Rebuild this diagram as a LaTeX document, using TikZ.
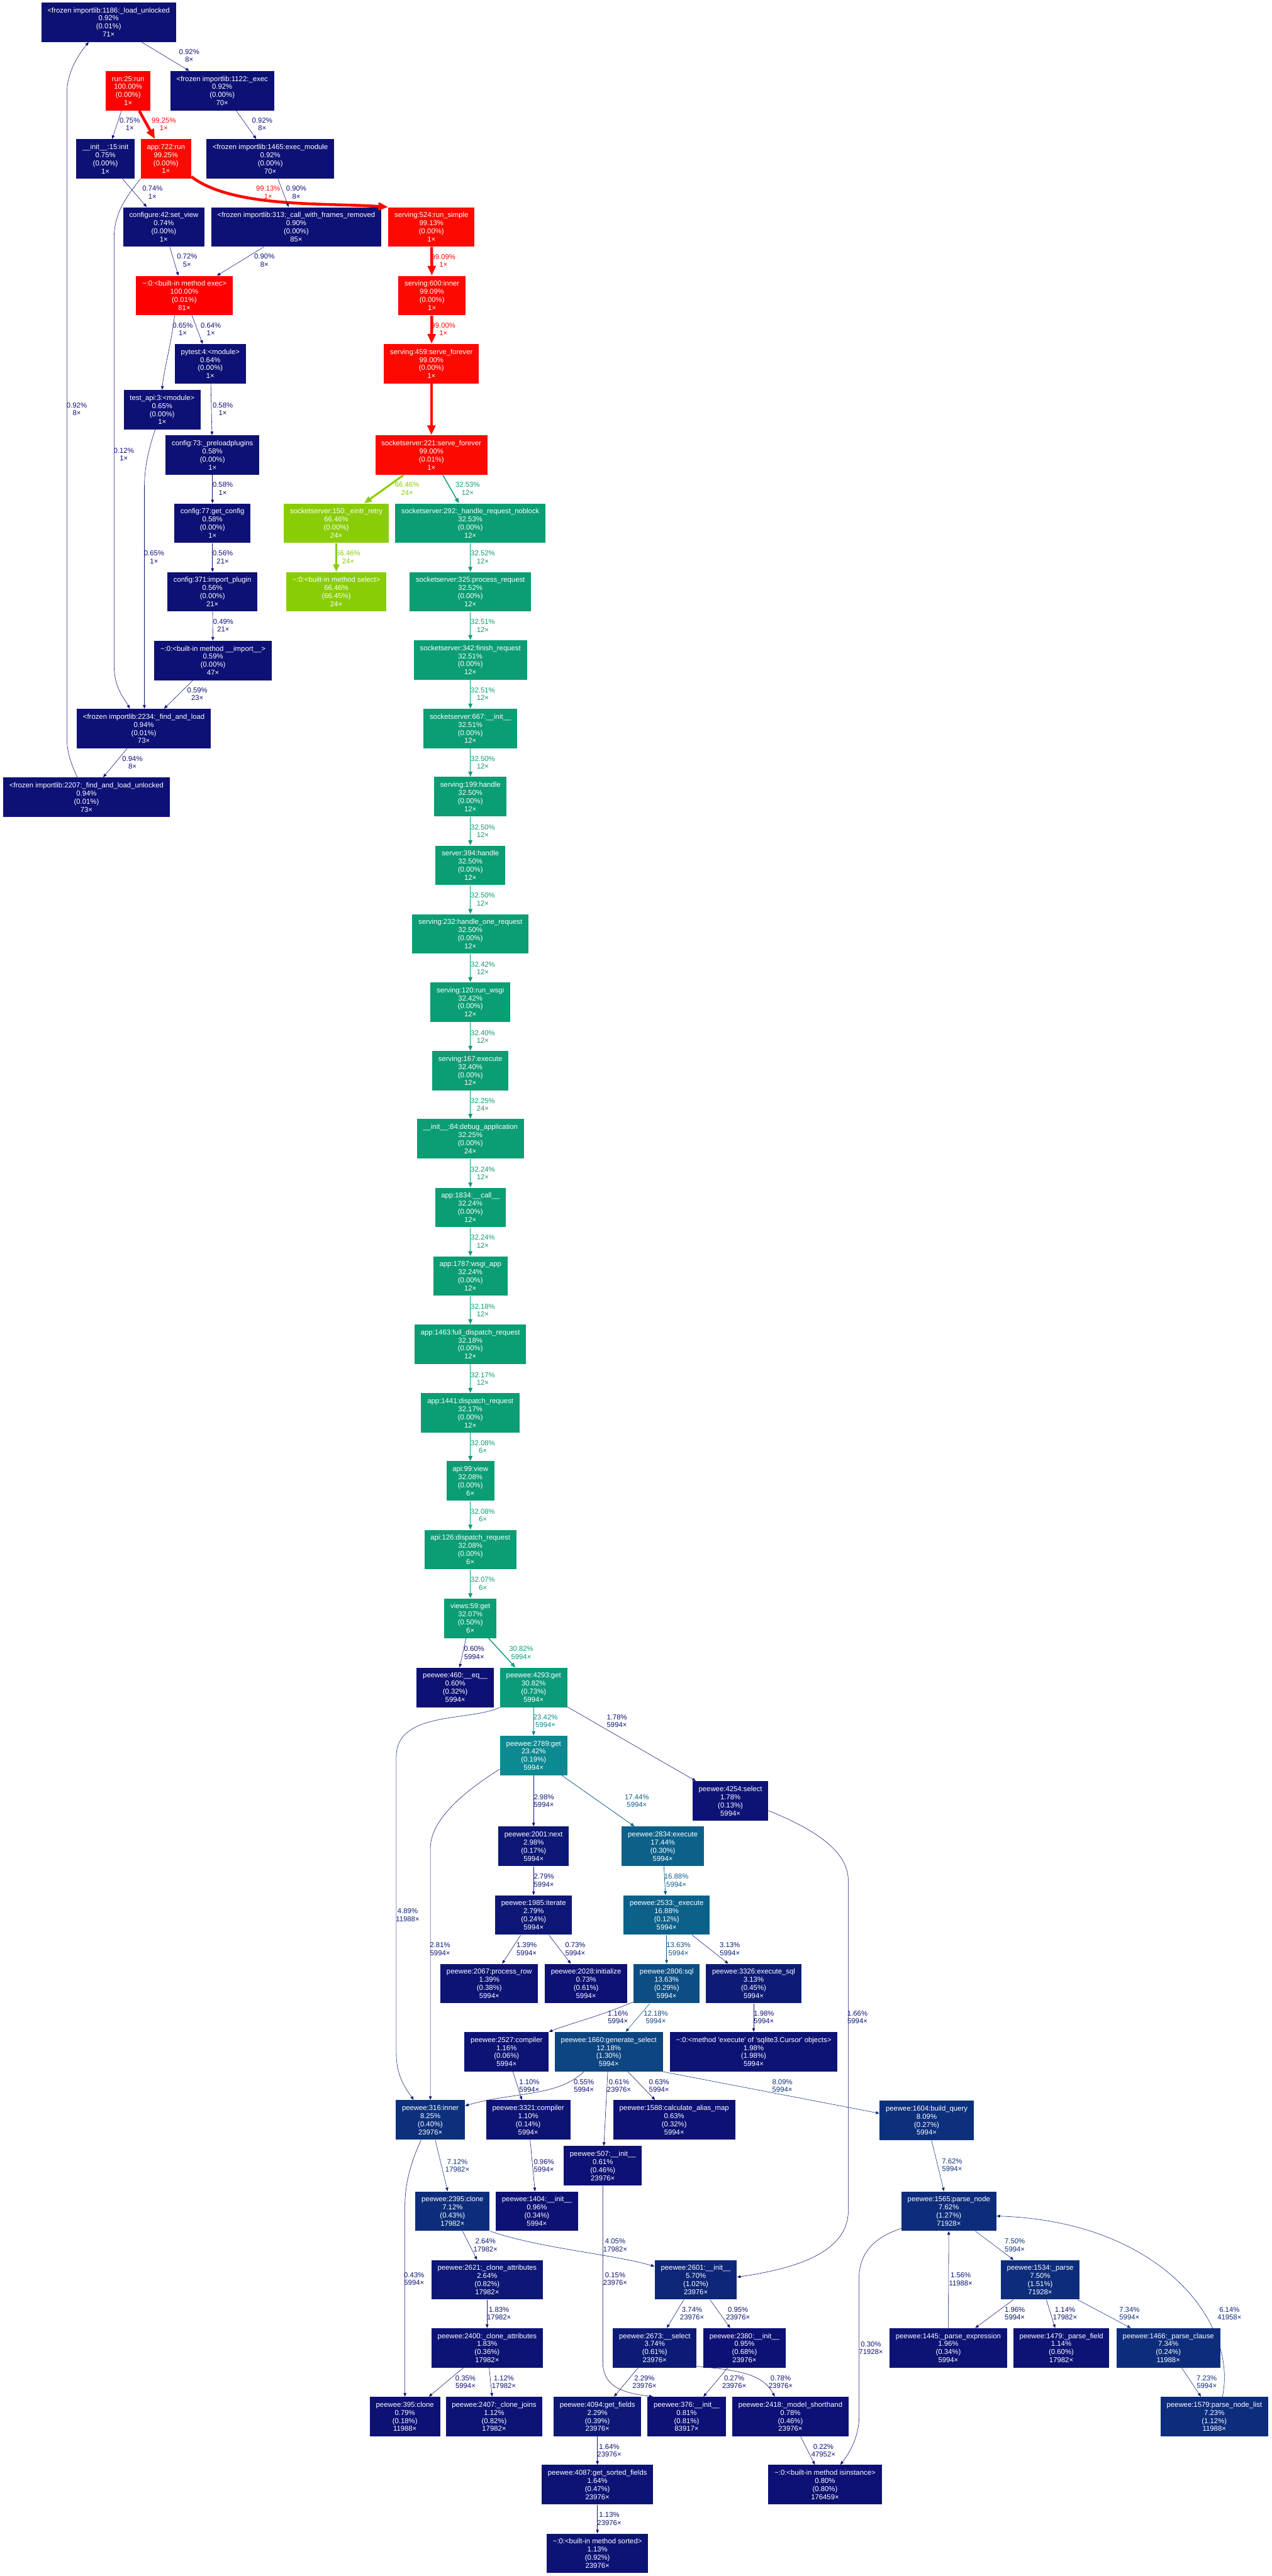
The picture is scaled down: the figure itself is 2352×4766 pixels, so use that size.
\documentclass[tikz,border=0pt]{standalone}
\usepackage{fontspec}
\setmainfont{Liberation Sans}
\usepackage{tikz}
\usetikzlibrary{arrows.meta, calc}
\definecolor{gvred}{HTML}{FF0000}
\definecolor{gvredb}{HTML}{FE0900}
\definecolor{gvlime}{HTML}{89CD07}
\definecolor{gvgreen}{HTML}{0B9D74}
\definecolor{gvgreenb}{HTML}{0B9B7A}
\definecolor{gvteal}{HTML}{0C8991}
\definecolor{gvpetrol}{HTML}{0C618A}
\definecolor{gvblue13}{HTML}{0C4E84}
\definecolor{gvblue12}{HTML}{0D4582}
\definecolor{gvblue8}{HTML}{0D307C}
\definecolor{gvblue7}{HTML}{0D2D7C}
\definecolor{gvblue6}{HTML}{0D287B}
\definecolor{gvblue5}{HTML}{0D2679}
\definecolor{gvblue4}{HTML}{0D2279}
\definecolor{gvnavy3}{HTML}{0D1B77}
\definecolor{gvnavy2}{HTML}{0D1776}
\definecolor{gvnavy1}{HTML}{0D1375}
\definecolor{gvnavy}{HTML}{0D1074}
\tikzset{
	fnode/.style={
			shape=rectangle,
			fill=#1,
			text=white,
			font=\fontsize{6.6pt}{7.5pt}\selectfont,
			align=center,
			minimum height=36.5pt,
			minimum width=36pt,
			inner xsep=5.7pt,
			inner ysep=0pt
		}
}
\tikzset{
	elabel/.style={
			text=#1,
			font=\fontsize{6.6pt}{7.2pt}\selectfont,
			align=center,
			inner sep=0pt
		},
	call/.style={
			draw=#1,
			line width=0.33pt,
			-{Triangle[length=2.5pt 2.5, width=2pt 2]}
		}
}

\begin{document}
\begin{tikzpicture}[x=0.5pt, y=-0.5pt]

              \fill[white] (0,0) rectangle (2352,4766);
              \useasboundingbox (0,0) rectangle (2352,4766);

              \node[fnode=gvnavy] (L1186) at (201,41) {<frozen importlib:1186:\_load\_unlocked\\0.92\%\\(0.01\%)\\71×};
              \node[fnode=gvred] (R25) at (237,168) {run:25:run\\100.00\%\\(0.00\%)\\1×};
              \node[fnode=gvnavy] (E1122) at (411,168) {<frozen importlib:1122:\_exec\\0.92\%\\(0.00\%)\\70×};
              \node[fnode=gvnavy] (I15) at (195,294) {\_\_init\_\_:15:init\\0.75\%\\(0.00\%)\\1×};
              \node[fnode=gvredb] (A722) at (307,294) {app:722:run\\99.25\%\\(0.00\%)\\1×};
              \node[fnode=gvnavy] (M1465) at (500,294) {<frozen importlib:1465:exec\_module\\0.92\%\\(0.00\%)\\70×};
              \node[fnode=gvnavy] (SV42) at (303,420) {configure:42:set\_view\\0.74\%\\(0.00\%)\\1×};
              \node[fnode=gvnavy] (CF313) at (548,420) {<frozen importlib:313:\_call\_with\_frames\_removed\\0.90\%\\(0.00\%)\\85×};
              \node[fnode=gvredb] (RS524) at (798,420) {serving:524:run\_simple\\99.13\%\\(0.00\%)\\1×};
              \node[fnode=gvred] (EX) at (341,547) {\textasciitilde:0:<built-in method exec>\\100.00\%\\(0.01\%)\\81×};
              \node[fnode=gvredb] (I600) at (799,547) {serving:600:inner\\99.09\%\\(0.00\%)\\1×};
              \node[fnode=gvnavy] (PT4) at (389,673) {pytest:4:<module>\\0.64\%\\(0.00\%)\\1×};
              \node[fnode=gvredb] (SF459) at (798,673) {serving:459:serve\_forever\\99.00\%\\(0.00\%)\\1×};
              \node[fnode=gvnavy] (TA3) at (300,758) {test\_api:3:<module>\\0.65\%\\(0.00\%)\\1×};
              \node[fnode=gvnavy] (PP73) at (393,842) {config:73:\_preloadplugins\\0.58\%\\(0.00\%)\\1×};
              \node[fnode=gvredb] (SS221) at (798,842) {socketserver:221:serve\_forever\\99.00\%\\(0.01\%)\\1×};
              \node[fnode=gvnavy] (GC77) at (393,968) {config:77:get\_config\\0.58\%\\(0.00\%)\\1×};
              \node[fnode=gvlime] (ER150) at (622,968) {socketserver:150:\_eintr\_retry\\66.46\%\\(0.00\%)\\24×};
              \node[fnode=gvnavy] (IP371) at (393,1095) {config:371:import\_plugin\\0.56\%\\(0.00\%)\\21×};
              \node[fnode=gvlime] (SEL) at (622,1095) {\textasciitilde:0:<built-in method select>\\66.46\%\\(66.45\%)\\24×};
              \node[fnode=gvnavy] (IMP) at (394,1222) {\textasciitilde:0:<built-in method \_\_import\_\_>\\0.59\%\\(0.00\%)\\47×};
              \node[fnode=gvnavy] (FL2234) at (266,1348) {<frozen importlib:2234:\_find\_and\_load\\0.94\%\\(0.01\%)\\73×};
              \node[fnode=gvnavy] (FLU2207) at (160,1475) {<frozen importlib:2207:\_find\_and\_load\_unlocked\\0.94\%\\(0.01\%)\\73×};

              \node[fnode=gvgreen] (HR292) at (870,968) {socketserver:292:\_handle\_request\_noblock\\32.53\%\\(0.00\%)\\12×};
              \node[fnode=gvgreen] (PR325) at (870,1095) {socketserver:325:process\_request\\32.52\%\\(0.00\%)\\12×};
              \node[fnode=gvgreen] (FR342) at (870,1221) {socketserver:342:finish\_request\\32.51\%\\(0.00\%)\\12×};
              \node[fnode=gvgreen] (SI667) at (870,1348) {socketserver:667:\_\_init\_\_\\32.51\%\\(0.00\%)\\12×};
              \node[fnode=gvgreen] (H199) at (870,1474) {serving:199:handle\\32.50\%\\(0.00\%)\\12×};
              \node[fnode=gvgreen] (H394) at (870,1601) {server:394:handle\\32.50\%\\(0.00\%)\\12×};
              \node[fnode=gvgreen] (HOR232) at (870,1728) {serving:232:handle\_one\_request\\32.50\%\\(0.00\%)\\12×};
              \node[fnode=gvgreen] (RW120) at (870,1854) {serving:120:run\_wsgi\\32.42\%\\(0.00\%)\\12×};
              \node[fnode=gvgreen] (EXE167) at (870,1981) {serving:167:execute\\32.40\%\\(0.00\%)\\12×};
              \node[fnode=gvgreen] (DA84) at (870,2107) {\_\_init\_\_:84:debug\_application\\32.25\%\\(0.00\%)\\24×};
              \node[fnode=gvgreen] (C1834) at (870,2234) {app:1834:\_\_call\_\_\\32.24\%\\(0.00\%)\\12×};
              \node[fnode=gvgreen] (W1787) at (870,2361) {app:1787:wsgi\_app\\32.24\%\\(0.00\%)\\12×};
              \node[fnode=gvgreen] (FDR1463) at (870,2487) {app:1463:full\_dispatch\_request\\32.18\%\\(0.00\%)\\12×};
              \node[fnode=gvgreen] (DR1441) at (870,2614) {app:1441:dispatch\_request\\32.17\%\\(0.00\%)\\12×};
              \node[fnode=gvgreen] (V99) at (870,2740) {api:99:view\\32.08\%\\(0.00\%)\\6×};
              \node[fnode=gvgreen] (DR126) at (870,2867) {api:126:dispatch\_request\\32.08\%\\(0.00\%)\\6×};
              \node[fnode=gvgreen] (G59) at (870,2994) {views:59:get\\32.07\%\\(0.50\%)\\6×};

              \node[fnode=gvnavy] (EQ460) at (842,3122) {peewee:460:\_\_eq\_\_\\0.60\%\\(0.32\%)\\5994×};
              \node[fnode=gvgreenb] (G4293) at (987,3122) {peewee:4293:get\\30.82\%\\(0.73\%)\\5994×};
              \node[fnode=gvteal] (G2789) at (987,3248) {peewee:2789:get\\23.42\%\\(0.19\%)\\5994×};
              \node[fnode=gvnavy1] (S4254) at (1351,3332) {peewee:4254:select\\1.78\%\\(0.13\%)\\5994×};
              \node[fnode=gvnavy2] (N2001) at (987,3416) {peewee:2001:next\\2.98\%\\(0.17\%)\\5994×};
              \node[fnode=gvpetrol] (E2834) at (1226,3416) {peewee:2834:execute\\17.44\%\\(0.30\%)\\5994×};
              \node[fnode=gvnavy2] (IT1985) at (987,3543) {peewee:1985:iterate\\2.79\%\\(0.24\%)\\5994×};
              \node[fnode=gvpetrol] (E2533) at (1233,3543) {peewee:2533:\_execute\\16.88\%\\(0.12\%)\\5994×};
              \node[fnode=gvnavy1] (PR2067) at (905,3670) {peewee:2067:process\_row\\1.39\%\\(0.38\%)\\5994×};
              \node[fnode=gvnavy] (IN2028) at (1084,3670) {peewee:2028:initialize\\0.73\%\\(0.61\%)\\5994×};
              \node[fnode=gvblue13] (SQ2806) at (1233,3670) {peewee:2806:sql\\13.63\%\\(0.29\%)\\5994×};
              \node[fnode=gvnavy3] (ES3326) at (1394,3670) {peewee:3326:execute\_sql\\3.13\%\\(0.45\%)\\5994×};
              \node[fnode=gvnavy1] (C2527) at (937,3796) {peewee:2527:compiler\\1.16\%\\(0.06\%)\\5994×};
              \node[fnode=gvblue12] (GS1660) at (1126,3796) {peewee:1660:generate\_select\\12.18\%\\(1.30\%)\\5994×};
              \node[fnode=gvnavy1] (SQX) at (1394,3796) {\textasciitilde:0:<method \textquotesingle execute\textquotesingle{} of \textquotesingle sqlite3.Cursor\textquotesingle{} objects>\\1.98\%\\(1.98\%)\\5994×};
              \node[fnode=gvblue8] (IN316) at (796,3922) {peewee:316:inner\\8.25\%\\(0.40\%)\\23976×};
              \node[fnode=gvnavy1] (C3321) at (977,3922) {peewee:3321:compiler\\1.10\%\\(0.14\%)\\5994×};
              \node[fnode=gvnavy] (CA1588) at (1247,3922) {peewee:1588:calculate\_alias\_map\\0.63\%\\(0.32\%)\\5994×};
              \node[fnode=gvblue8] (BQ1604) at (1714,3923) {peewee:1604:build\_query\\8.09\%\\(0.27\%)\\5994×};
              \node[fnode=gvnavy] (I507) at (1115,4007) {peewee:507:\_\_init\_\_\\0.61\%\\(0.46\%)\\23976×};
              \node[fnode=gvblue7] (CL2395) at (837,4091) {peewee:2395:clone\\7.12\%\\(0.43\%)\\17982×};
              \node[fnode=gvnavy] (I1404) at (993,4091) {peewee:1404:\_\_init\_\_\\0.96\%\\(0.34\%)\\5994×};
              \node[fnode=gvblue7] (PN1565) at (1755,4091) {peewee:1565:parse\_node\\7.62\%\\(1.27\%)\\71928×};
              \node[fnode=gvnavy2] (CA2621) at (901,4218) {peewee:2621:\_clone\_attributes\\2.64\%\\(0.82\%)\\17982×};
              \node[fnode=gvblue5] (I2601) at (1287,4218) {peewee:2601:\_\_init\_\_\\5.70\%\\(1.02\%)\\23976×};
              \node[fnode=gvblue7] (P1534) at (1924,4218) {peewee:1534:\_parse\\7.50\%\\(1.51\%)\\71928×};
              \node[fnode=gvnavy1] (CA2400) at (901,4344) {peewee:2400:\_clone\_attributes\\1.83\%\\(0.36\%)\\17982×};
              \node[fnode=gvnavy3] (SE2673) at (1211,4344) {peewee:2673:\_\_select\\3.74\%\\(0.61\%)\\23976×};
              \node[fnode=gvnavy] (I2380) at (1377,4344) {peewee:2380:\_\_init\_\_\\0.95\%\\(0.68\%)\\23976×};
              \node[fnode=gvnavy1] (PE1445) at (1754,4344) {peewee:1445:\_parse\_expression\\1.96\%\\(0.34\%)\\5994×};
              \node[fnode=gvnavy1] (PF1479) at (1963,4344) {peewee:1479:\_parse\_field\\1.14\%\\(0.60\%)\\17982×};
              \node[fnode=gvblue7] (PC1466) at (2161,4344) {peewee:1466:\_parse\_clause\\7.34\%\\(0.24\%)\\11988×};
              \node[fnode=gvnavy] (CL395) at (749,4471) {peewee:395:clone\\0.79\%\\(0.18\%)\\11988×};
              \node[fnode=gvnavy1] (CJ2407) at (914,4471) {peewee:2407:\_clone\_joins\\1.12\%\\(0.82\%)\\17982×};
              \node[fnode=gvnavy2] (GF4094) at (1105,4471) {peewee:4094:get\_fields\\2.29\%\\(0.39\%)\\23976×};
              \node[fnode=gvnavy] (I376) at (1270,4471) {peewee:376:\_\_init\_\_\\0.81\%\\(0.81\%)\\83917×};
              \node[fnode=gvnavy] (MS2418) at (1462,4471) {peewee:2418:\_model\_shorthand\\0.78\%\\(0.46\%)\\23976×};
              \node[fnode=gvblue7] (PNL1579) at (2246,4471) {peewee:1579:parse\_node\_list\\7.23\%\\(1.12\%)\\11988×};
              \node[fnode=gvnavy1] (GSF4087) at (1105,4597) {peewee:4087:get\_sorted\_fields\\1.64\%\\(0.47\%)\\23976×};
              \node[fnode=gvnavy] (ISI) at (1526,4597) {\textasciitilde:0:<built-in method isinstance>\\0.80\%\\(0.80\%)\\176459×};
              \node[fnode=gvnavy1] (SRT) at (1105,4724) {\textasciitilde:0:<built-in method sorted>\\1.13\%\\(0.92\%)\\23976×};

              \draw[call=gvnavy] (L1186) -- (E1122);
              \draw[call=gvnavy] (R25) -- (I15);
              \draw[call=gvredb, line width=2.64pt] (R25) -- (A722);
              \draw[call=gvnavy] (E1122) -- (M1465);
              \draw[call=gvnavy] (I15) -- (SV42);
              \draw[call=gvredb, line width=2.64pt] ([yshift=2pt]A722.south east) .. controls (430,385) and (600,375) .. (RS524.north west);
              \draw[call=gvnavy] (M1465) -- (CF313);
              \draw[call=gvnavy] (SV42) -- (EX);
              \draw[call=gvnavy] (CF313) -- (EX);
              \draw[call=gvredb, line width=2.64pt] (RS524) -- (I600);
              \draw[call=gvnavy] ([xshift=-9pt]EX.south) .. controls (316,640) and (302,690) .. (TA3.north);
              \draw[call=gvnavy] (EX) -- (PT4);
              \draw[call=gvredb, line width=2.64pt] (I600) -- (SF459);
              \draw[call=gvnavy] (A722.south west) .. controls (228,370) and (211,400) .. (211,440) -- (211,1230) .. controls (211,1275) and (232,1295) .. ($(FL2234.north)+(-26,0)$);
              \draw[call=gvnavy] (PT4) -- (PP73);
              \draw[call=gvnavy] ([xshift=-6.5pt]TA3.south) .. controls (272,840) and (267,870) .. (267,905) -- ($(FL2234.north)+(1,0)$);
              \draw[call=gvnavy] (PP73) -- (GC77);
              \draw[call=gvnavy] (GC77) -- (IP371);
              \draw[call=gvnavy] (IP371) -- (IMP);
              \draw[call=gvnavy] (IMP) -- (FL2234);
              \draw[call=gvnavy] (FL2234) -- (FLU2207);
              \draw[call=gvnavy] ($(FLU2207.north)+(-17,0)$) .. controls (128,1405) and (124,1390) .. (124,1365) -- (124,170) .. controls (124,130) and (150,95) .. ($(L1186.south)+(-37,0)$);
              \draw[call=gvredb, line width=2.64pt] (SF459) -- (SS221);
              \draw[call=gvlime, line width=1.77pt] (SS221) -- (ER150);
              \draw[call=gvgreen, line width=0.87pt] (SS221) -- (HR292);
              \draw[call=gvlime, line width=1.77pt] (ER150) -- (SEL);

              \draw[call=gvgreen, line width=0.87pt] (HR292) -- (PR325);
              \draw[call=gvgreen, line width=0.87pt] (PR325) -- (FR342);
              \draw[call=gvgreen, line width=0.87pt] (FR342) -- (SI667);
              \draw[call=gvgreen, line width=0.87pt] (SI667) -- (H199);
              \draw[call=gvgreen, line width=0.87pt] (H199) -- (H394);
              \draw[call=gvgreen, line width=0.87pt] (H394) -- (HOR232);
              \draw[call=gvgreen, line width=0.87pt] (HOR232) -- (RW120);
              \draw[call=gvgreen, line width=0.87pt] (RW120) -- (EXE167);
              \draw[call=gvgreen, line width=0.86pt] (EXE167) -- (DA84);
              \draw[call=gvgreen, line width=0.86pt] (DA84) -- (C1834);
              \draw[call=gvgreen, line width=0.86pt] (C1834) -- (W1787);
              \draw[call=gvgreen, line width=0.86pt] (W1787) -- (FDR1463);
              \draw[call=gvgreen, line width=0.86pt] (FDR1463) -- (DR1441);
              \draw[call=gvgreen, line width=0.86pt] (DR1441) -- (V99);
              \draw[call=gvgreen, line width=0.86pt] (V99) -- (DR126);
              \draw[call=gvgreen, line width=0.86pt] (DR126) -- (G59);

              \draw[call=gvnavy] (G59) -- (EQ460);
              \draw[call=gvgreenb, line width=0.82pt] (G59) -- (G4293);
              \draw[call=gvteal, line width=0.62pt] (G4293) -- (G2789);
              \draw[call=gvnavy1] (G4293) -- (S4254);
              \draw[call=gvblue4] (G4293.south west) .. controls (870,3185) and (733,3165) .. (733,3250) -- (733,3800) .. controls (733,3845) and (755,3870) .. ($(IN316.north)+(-31,0)$);
              \draw[call=gvnavy2] (G2789) -- (N2001);
              \draw[call=gvpetrol, line width=0.47pt] (G2789) -- (E2834);
              \draw[call=gvnavy2] ($(G2789.west)+(0,25)$) .. controls (850,3320) and (796,3370) .. (796,3420) -- (IN316.north);
              \draw[call=gvnavy1] ($(S4254.east)+(0,18)$) .. controls (1520,3390) and (1569,3430) .. (1569,3480) -- (1569,4090) .. controls (1569,4175) and (1450,4200) .. ($(I2601.east)+(0,-5)$);
              \draw[call=gvnavy2] (N2001) -- (IT1985);
              \draw[call=gvpetrol, line width=0.45pt] (E2834) -- (E2533);
              \draw[call=gvnavy1] (IT1985) -- (PR2067);
              \draw[call=gvnavy] (IT1985) -- (IN2028);
              \draw[call=gvblue13, line width=0.36pt] (E2533) -- (SQ2806);
              \draw[call=gvnavy3] (E2533) -- (ES3326);
              \draw[call=gvnavy1] ($(SQ2806.south west)+(0,-3)$) .. controls (1110,3730) and (1060,3742) .. (C2527.north east);
              \draw[call=gvblue12] (SQ2806) -- (GS1660);
              \draw[call=gvnavy1] (ES3326) -- (SQX);
              \draw[call=gvnavy1] (C2527) -- (C3321);
              \draw[call=gvnavy] ($(GS1660.south)+(-46,0)$) .. controls (1030,3880) and (950,3870) .. ($(IN316.east)+(0,-26)$);
              \draw[call=gvnavy] (GS1660) -- (I507);
              \draw[call=gvnavy] (GS1660) -- (CA1588);
              \draw[call=gvblue8] (GS1660.south east) -- ($(BQ1604.west)+(0,-13)$);
              \draw[call=gvblue7] (IN316) -- (CL2395);
              \draw[call=gvnavy] ($(IN316.south)+(-17,0)$) .. controls (760,4000) and (749,4040) .. (749,4080) -- (CL395.north);
              \draw[call=gvnavy] (C3321) -- (I1404);
              \draw[call=gvnavy] (I507.south) -- (1115,4370) .. controls (1115,4420) and (1160,4428) .. ($(I376.north west)+(10,0)$);
              \draw[call=gvnavy2] (CL2395) -- (CA2621);
              \draw[call=gvnavy3] (CL2395.south east) .. controls (1000,4160) and (1130,4170) .. ($(I2601.north west)+(0,12)$);
              \draw[call=gvnavy1] (CA2621) -- (CA2400);
              \draw[call=gvnavy3] (I2601) -- (SE2673);
              \draw[call=gvnavy] (I2601) -- (I2380);
              \draw[call=gvnavy] (CA2400) -- (CL395);
              \draw[call=gvnavy1] (CA2400) -- (CJ2407);
              \draw[call=gvnavy2] (SE2673) -- (GF4094);
              \draw[call=gvnavy] ($(SE2673.south east)+(0,-3)$) .. controls (1360,4385) and (1410,4390) .. ($(MS2418.north)+(-29,0)$);
              \draw[call=gvnavy] (I2380) -- (I376);
              \draw[call=gvnavy] (MS2418) -- (ISI);
              \draw[call=gvnavy1] (GF4094) -- (GSF4087);
              \draw[call=gvnavy1] (GSF4087) -- (SRT);
              \draw[call=gvnavy] ($(PN1565.south west)+(0,-5)$) .. controls (1615,4140) and (1589,4170) .. (1589,4215) -- (1589,4470) .. controls (1589,4510) and (1570,4540) .. ($(ISI.north east)+(-77,0)$);
              \draw[call=gvblue7] (BQ1604) -- (PN1565);
              \draw[call=gvblue7] (PN1565) -- (P1534);
              \draw[call=gvnavy1] (PE1445) -- (PN1565);
              \draw[call=gvnavy1] (P1534) -- (PE1445);
              \draw[call=gvnavy1] (P1534) -- (PF1479);
              \draw[call=gvblue7] (P1534) -- (PC1466);
              \draw[call=gvblue7] (PC1466) -- (PNL1579);
              \draw[call=gvblue6] ($(PNL1579.north)+(15,0)$) .. controls (2290,4300) and (2150,4110) .. ($(PN1565.east)+(0,9)$);

              \node[elabel=gvnavy] (l1) at (350,103) {0.92\%\\8×};
              \node[elabel=gvnavy] (l2) at (240,230) {0.75\%\\1×};
              \node[elabel=gvredb] (l3) at (303,230) {99.25\%\\1×};
              \node[elabel=gvnavy] (l4) at (485,230) {0.92\%\\8×};
              \node[elabel=gvnavy] (l5) at (282,356) {0.74\%\\1×};
              \node[elabel=gvredb] (l6) at (496,356) {99.13\%\\1×};
              \node[elabel=gvnavy] (l7) at (548,356) {0.90\%\\8×};
              \node[elabel=gvnavy] (l8) at (346,482) {0.72\%\\5×};
              \node[elabel=gvnavy] (l9) at (489,482) {0.90\%\\8×};
              \node[elabel=gvredb] (l10) at (820,482) {99.09\%\\1×};
              \node[elabel=gvnavy] (l11) at (338,609) {0.65\%\\1×};
              \node[elabel=gvnavy] (l12) at (390,609) {0.64\%\\1×};
              \node[elabel=gvredb] (l13) at (820,609) {99.00\%\\1×};
              \node[elabel=gvnavy] (l14) at (142,757) {0.92\%\\8×};
              \node[elabel=gvnavy] (l15) at (412,757) {0.58\%\\1×};
              \node[elabel=gvnavy] (l16) at (229,841) {0.12\%\\1×};
              \node[elabel=gvnavy] (l17) at (412,904) {0.58\%\\1×};
              \node[elabel=gvlime] (l18) at (753,904) {66.46\%\\24×};
              \node[elabel=gvgreen] (l19) at (865,904) {32.53\%\\12×};
              \node[elabel=gvnavy] (l20) at (285,1031) {0.65\%\\1×};
              \node[elabel=gvnavy] (l21) at (412,1031) {0.56\%\\21×};
              \node[elabel=gvlime] (l22) at (644,1031) {66.46\%\\24×};
              \node[elabel=gvnavy] (l23) at (413,1157) {0.49\%\\21×};
              \node[elabel=gvnavy] (l24) at (365,1284) {0.59\%\\23×};
              \node[elabel=gvnavy] (l25) at (245,1411) {0.94\%\\8×};

              \node[elabel=gvgreen] (l26) at (893,1031) {32.52\%\\12×};
              \node[elabel=gvgreen] (l27) at (893,1158) {32.51\%\\12×};
              \node[elabel=gvgreen] (l28) at (893,1284) {32.51\%\\12×};
              \node[elabel=gvgreen] (l29) at (893,1411) {32.50\%\\12×};
              \node[elabel=gvgreen] (l30) at (893,1538) {32.50\%\\12×};
              \node[elabel=gvgreen] (l31) at (893,1664) {32.50\%\\12×};
              \node[elabel=gvgreen] (l32) at (893,1791) {32.42\%\\12×};
              \node[elabel=gvgreen] (l33) at (893,1918) {32.40\%\\12×};
              \node[elabel=gvgreen] (l34) at (893,2044) {32.25\%\\24×};
              \node[elabel=gvgreen] (l35) at (893,2171) {32.24\%\\12×};
              \node[elabel=gvgreen] (l36) at (893,2297) {32.24\%\\12×};
              \node[elabel=gvgreen] (l37) at (893,2424) {32.18\%\\12×};
              \node[elabel=gvgreen] (l38) at (893,2551) {32.17\%\\12×};
              \node[elabel=gvgreen] (l39) at (893,2677) {32.08\%\\6×};
              \node[elabel=gvgreen] (l40) at (893,2804) {32.08\%\\6×};
              \node[elabel=gvgreen] (l41) at (893,2930) {32.07\%\\6×};

              \node[elabel=gvnavy] (l42) at (877,3058) {0.60\%\\5994×};
              \node[elabel=gvgreenb] (l43) at (964,3058) {30.82\%\\5994×};
              \node[elabel=gvteal] (l44) at (1009,3184) {23.42\%\\5994×};
              \node[elabel=gvnavy1] (l45) at (1141,3184) {1.78\%\\5994×};
              \node[elabel=gvnavy2] (l46) at (1006,3332) {2.98\%\\5994×};
              \node[elabel=gvpetrol] (l47) at (1178,3332) {17.44\%\\5994×};
              \node[elabel=gvnavy2] (l48) at (1006,3479) {2.79\%\\5994×};
              \node[elabel=gvpetrol] (l49) at (1251,3479) {16.88\%\\5994×};
              \node[elabel=gvblue4] (l50) at (754,3543) {4.89\%\\11988×};
              \node[elabel=gvnavy2] (l51) at (814,3606) {2.81\%\\5994×};
              \node[elabel=gvnavy1] (l52) at (974,3606) {1.39\%\\5994×};
              \node[elabel=gvnavy] (l53) at (1064,3606) {0.73\%\\5994×};
              \node[elabel=gvblue13] (l54) at (1255,3606) {13.63\%\\5994×};
              \node[elabel=gvnavy3] (l55) at (1350,3606) {3.13\%\\5994×};
              \node[elabel=gvnavy1] (l56) at (1143,3732) {1.16\%\\5994×};
              \node[elabel=gvblue12] (l57) at (1213,3732) {12.18\%\\5994×};
              \node[elabel=gvnavy1] (l58) at (1413,3732) {1.98\%\\5994×};
              \node[elabel=gvnavy1] (l59) at (1586,3732) {1.66\%\\5994×};
              \node[elabel=gvnavy1] (l60) at (979,3859) {1.10\%\\5994×};
              \node[elabel=gvnavy] (l61) at (1080,3859) {0.55\%\\5994×};
              \node[elabel=gvnavy] (l62) at (1145,3859) {0.61\%\\23976×};
              \node[elabel=gvnavy] (l63) at (1219,3859) {0.63\%\\5994×};
              \node[elabel=gvblue8] (l64) at (1447,3859) {8.09\%\\5994×};
              \node[elabel=gvblue7] (l65) at (846,4007) {7.12\%\\17982×};
              \node[elabel=gvnavy] (l66) at (1006,4007) {0.96\%\\5994×};
              \node[elabel=gvblue7] (l67) at (1761,4006) {7.62\%\\5994×};
              \node[elabel=gvnavy2] (l68) at (898,4154) {2.64\%\\17982×};
              \node[elabel=gvnavy3] (l69) at (1138,4154) {4.05\%\\17982×};
              \node[elabel=gvblue7] (l70) at (1877,4154) {7.50\%\\5994×};
              \node[elabel=gvnavy] (l71) at (766,4216) {0.43\%\\5994×};
              \node[elabel=gvnavy] (l72) at (1138,4216) {0.15\%\\23976×};
              \node[elabel=gvnavy1] (l73) at (1777,4217) {1.56\%\\11988×};
              \node[elabel=gvnavy1] (l74) at (923,4280) {1.83\%\\17982×};
              \node[elabel=gvnavy3] (l75) at (1280,4280) {3.74\%\\23976×};
              \node[elabel=gvnavy] (l76) at (1365,4280) {0.95\%\\23976×};
              \node[elabel=gvnavy1] (l77) at (1877,4280) {1.96\%\\5994×};
              \node[elabel=gvnavy1] (l78) at (1970,4280) {1.14\%\\17982×};
              \node[elabel=gvblue7] (l79) at (2089,4280) {7.34\%\\5994×};
              \node[elabel=gvblue6] (l80) at (2274,4280) {6.14\%\\41958×};
              \node[elabel=gvnavy] (l81) at (1611,4344) {0.30\%\\71928×};
              \node[elabel=gvnavy] (l82) at (861,4407) {0.35\%\\5994×};
              \node[elabel=gvnavy1] (l83) at (932,4407) {1.12\%\\17982×};
              \node[elabel=gvnavy2] (l84) at (1192,4407) {2.29\%\\23976×};
              \node[elabel=gvnavy] (l85) at (1358,4407) {0.27\%\\23976×};
              \node[elabel=gvnavy] (l86) at (1444,4407) {0.78\%\\23976×};
              \node[elabel=gvblue7] (l87) at (2232,4407) {7.23\%\\5994×};
              \node[elabel=gvnavy1] (l88) at (1127,4534) {1.64\%\\23976×};
              \node[elabel=gvnavy] (l89) at (1523,4534) {0.22\%\\47952×};
              \node[elabel=gvnavy1] (l90) at (1127,4660) {1.13\%\\23976×};

            \end{tikzpicture}
\end{document}
